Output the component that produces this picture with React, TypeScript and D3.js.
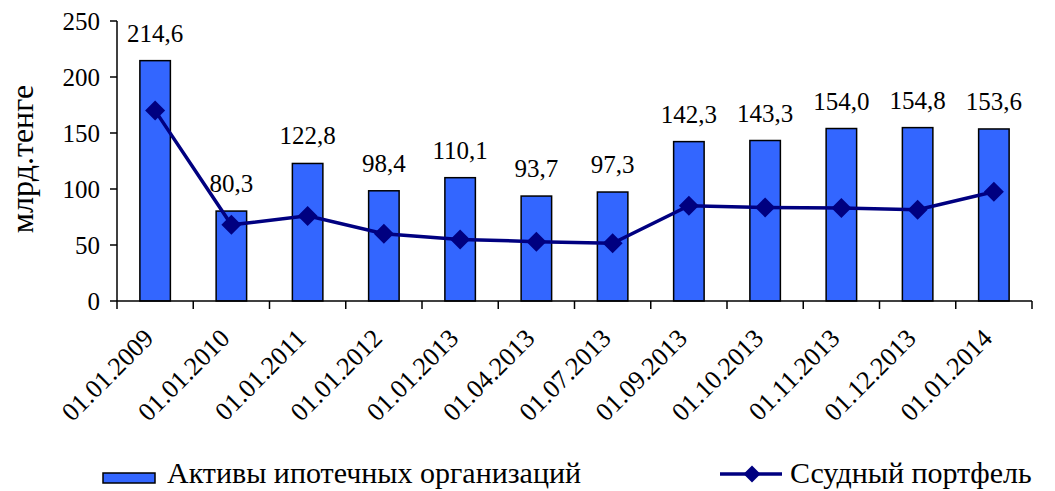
import React from "react";
import * as d3 from "d3";

const categories = [
  "01.01.2009", "01.01.2010", "01.01.2011", "01.01.2012", "01.01.2013", "01.04.2013",
  "01.07.2013", "01.09.2013", "01.10.2013", "01.11.2013", "01.12.2013", "01.01.2014",
];
const assets = [214.6, 80.3, 122.8, 98.4, 110.1, 93.7, 97.3, 142.3, 143.3, 154.0, 154.8, 153.6];
const loans = [170, 68, 76, 60, 55, 53, 51.5, 85, 83.5, 83, 81.5, 97.5];
const yTicks = [0, 50, 100, 150, 200, 250];
const seriesNames = ["Активы ипотечных организаций", "Ссудный портфель"];
const yTitle = "млрд.тенге";

const W = 1055;
const H = 491;
const left = 117;
const right = 1032;
const top = 21;
const bottom = 301;
const FF = "Liberation Serif";

function T(props: any) {
  const { children, size, ...rest } = props;
  return (
    <text {...rest} fontFamily={FF} fontSize={size} style={{ fontFamily: FF, fontSize: size + "px" }} fill="#000">
      {children}
    </text>
  );
}

export default function App() {
  const x = d3.scaleBand<string>().domain(categories).range([left, right]).paddingInner(0.6).paddingOuter(0.3);
  const y = d3.scaleLinear().domain([0, 250]).range([bottom, top]);
  const step = x.step();
  const cx = (c: string) => (x(c) as number) + x.bandwidth() / 2;
  const line = d3
    .line<number>()
    .x((_, i) => cx(categories[i]))
    .y((d) => y(d));
  const diamond = (px: number, py: number, r: number) =>
    `M${px},${py - r}L${px + r},${py}L${px},${py + r}L${px - r},${py}Z`;

  return (
    <svg width={W} height={H} style={{ display: "block", marginLeft: -8, marginTop: -8 }}>
      <rect x={0} y={0} width={W} height={H} fill="#fff" />
      {/* bars */}
      {assets.map((v, i) => (
        <rect
          key={"b" + i}
          x={x(categories[i])}
          y={y(v)}
          width={x.bandwidth()}
          height={bottom - y(v)}
          fill="#3366FF"
          stroke="#000"
          strokeWidth={1.5}
        />
      ))}
      {/* axes */}
      <line x1={left} x2={left} y1={top} y2={bottom} stroke="#000" strokeWidth={1.5} />
      <line x1={left} x2={right} y1={bottom} y2={bottom} stroke="#000" strokeWidth={1.5} />
      {yTicks.map((t) => (
        <g key={"yt" + t}>
          <line x1={left - 7} x2={left} y1={y(t)} y2={y(t)} stroke="#000" strokeWidth={1.5} />
          <T x={left - 17} y={y(t)} dy="0.35em" textAnchor="end" size={25}>
            {t}
          </T>
        </g>
      ))}
      {d3.range(categories.length + 1).map((i) => (
        <line
          key={"xt" + i}
          x1={left + i * step}
          x2={left + i * step}
          y1={bottom}
          y2={bottom + 8}
          stroke="#000"
          strokeWidth={1.5}
        />
      ))}
      {categories.map((c) => (
        <T
          key={"xl" + c}
          transform={`translate(${cx(c) - 13},${bottom + 26}) rotate(-45)`}
          textAnchor="end"
          dy="0.7em"
          size={26}
        >
          {c}
        </T>
      ))}
      <T transform={`translate(33,159) rotate(-90)`} textAnchor="middle" size={32}>
        {yTitle}
      </T>
      {/* line */}
      <path d={line(loans) as string} fill="none" stroke="#000080" strokeWidth={3.5} />
      {loans.map((v, i) => (
        <path key={"d" + i} d={diamond(cx(categories[i]), y(v), 10)} fill="#000080" />
      ))}
      {/* labels */}
      {assets.map((v, i) => (
        <T key={"l" + i} x={cx(categories[i])} y={y(v) - 19} textAnchor="middle" size={25}>
          {d3.format(".1f")(v).replace(".", ",")}
        </T>
      ))}
      {/* legend */}
      <rect x={103} y={473} width={52} height={10} fill="#3366FF" stroke="#000" strokeWidth={1.5} />
      <T x={167} y={483} size={30}>
        {seriesNames[0]}
      </T>
      <line x1={720} x2={782} y1={474} y2={474} stroke="#000080" strokeWidth={3.5} />
      <path d={diamond(752, 474, 8.5)} fill="#000080" />
      <T x={790} y={483} size={30}>
        {seriesNames[1]}
      </T>
    </svg>
  );
}
